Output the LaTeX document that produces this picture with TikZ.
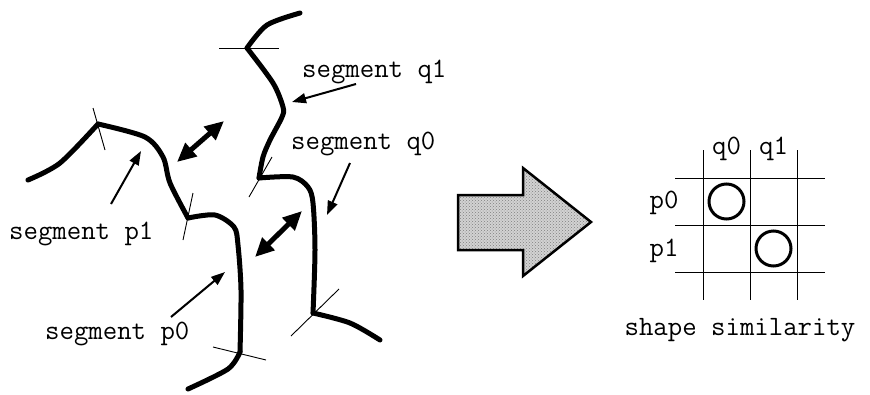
\documentclass[tikz,border=0pt]{standalone}
\usepackage{fontspec}
\usetikzlibrary{arrows.meta}
\usetikzlibrary{patterns}

\tikzset{
  contour/.style={line width=5pt, line cap=round, line join=round},
  cut/.style={line width=0.9pt},
  pointer/.style={line width=2pt, -{Triangle[length=14pt,width=10pt]}},
  match/.style={line width=5pt, {Triangle[length=19pt,width=17pt]}-{Triangle[length=19pt,width=17pt]}},
  tag/.style={font=\fontsize{28}{28}\selectfont\ttfamily, inner sep=0pt, anchor=base west},
  cell/.style={line width=1pt},
  hit/.style={circle, draw, line width=3pt, minimum size=35pt, inner sep=0pt},
}

\begin{document}
\begin{tikzpicture}[x=1pt, y=-1pt]
\useasboundingbox (0,0) rectangle (870,394);

% break points on the two contours
\coordinate (p2) at (98,124);
\coordinate (p1) at (188,218);
\coordinate (p0) at (240,352);
\coordinate (q2) at (247,48);
\coordinate (q1) at (259,178);
\coordinate (q0) at (313,313);

% contour p
\draw[contour] plot[smooth] coordinates {(28,180) (60,163) (p2)};
\draw[contour] plot[smooth] coordinates {(p2) (145,137) (163,157) (170,183) (p1)};
\draw[contour] plot[smooth] coordinates {(p1) (215,215) (234,227) (238,245) (241,290) (p0)};
\draw[contour] plot[smooth] coordinates {(p0) (228,369) (188,389)};

% contour q
\draw[contour] plot[smooth] coordinates {(300,13) (267,25) (q2)};
\draw[contour] plot[smooth] coordinates {(q2) (273,83) (283,107) (282,117) (270,140) (263,157) (q1)};
\draw[contour] plot[smooth] coordinates {(q1) (293,177) (308,187) (313,203) (315,250) (q0)};
\draw[contour] plot[smooth] coordinates {(q0) (350,323) (380,340)};

% cuts
\draw[cut] (93,108) -- (105,150);
\draw[cut] (193,193) -- (183,240);
\draw[cut] (213,347) -- (266,360);
\draw[cut] (219,48) -- (279,48);
\draw[cut] (272,157) -- (249,197);
\draw[cut] (339,289) -- (291,336);

% segment names
\node[tag] (labq1) at (302,77) {segment q1};
\node[tag] (labq0) at (291,149) {segment q0};
\node[tag] (labp1) at (9,239) {segment p1};
\node[tag] (labp0) at (45,339) {segment p0};

\coordinate (tq1) at (356,84);  \coordinate (hq1) at (292,102);
\coordinate (tq0) at (350,163); \coordinate (hq0) at (327,215);
\coordinate (tp1) at (111,204); \coordinate (hp1) at (141,151);
\coordinate (tp0) at (171,317); \coordinate (hp0) at (225,272);
\draw[pointer] (tq1) -- (hq1);
\draw[pointer] (tq0) -- (hq0);
\draw[pointer] (tp1) -- (hp1);
\draw[pointer] (tp0) -- (hp0);

% compared pairs
\coordinate (ua) at (177,162); \coordinate (ub) at (224,121);
\coordinate (la) at (255,257); \coordinate (lb) at (302,211);
\draw[match] (ua) -- (ub);
\draw[match] (la) -- (lb);

% big arrow
\draw[line width=2.5pt, preaction={fill=gray!35}, pattern=crosshatch dots, pattern color=gray]
  (458,195) -- (523,195) -- (523,168) -- (591,222) -- (523,276) -- (523,250) -- (458,250) -- cycle;

% similarity table
\foreach \x in {703,750,797}
  \draw[cell] (\x,150) -- (\x,300);
\foreach \y in {178,225,272}
  \draw[cell] (675,\y) -- (825,\y);

\node[tag, anchor=base] (colq0) at (726.5,154) {q0};
\node[tag, anchor=base] (colq1) at (773.5,154) {q1};
\node[tag, anchor=base] (rowp0) at (664,208) {p0};
\node[tag, anchor=base] (rowp1) at (664,256) {p1};

\node[hit] (m00) at (726.5,201.5) {};
\node[hit] (m11) at (773.5,248.5) {};

\node[tag, anchor=base] (title) at (740,335) {shape similarity};
\end{tikzpicture}
\end{document}
